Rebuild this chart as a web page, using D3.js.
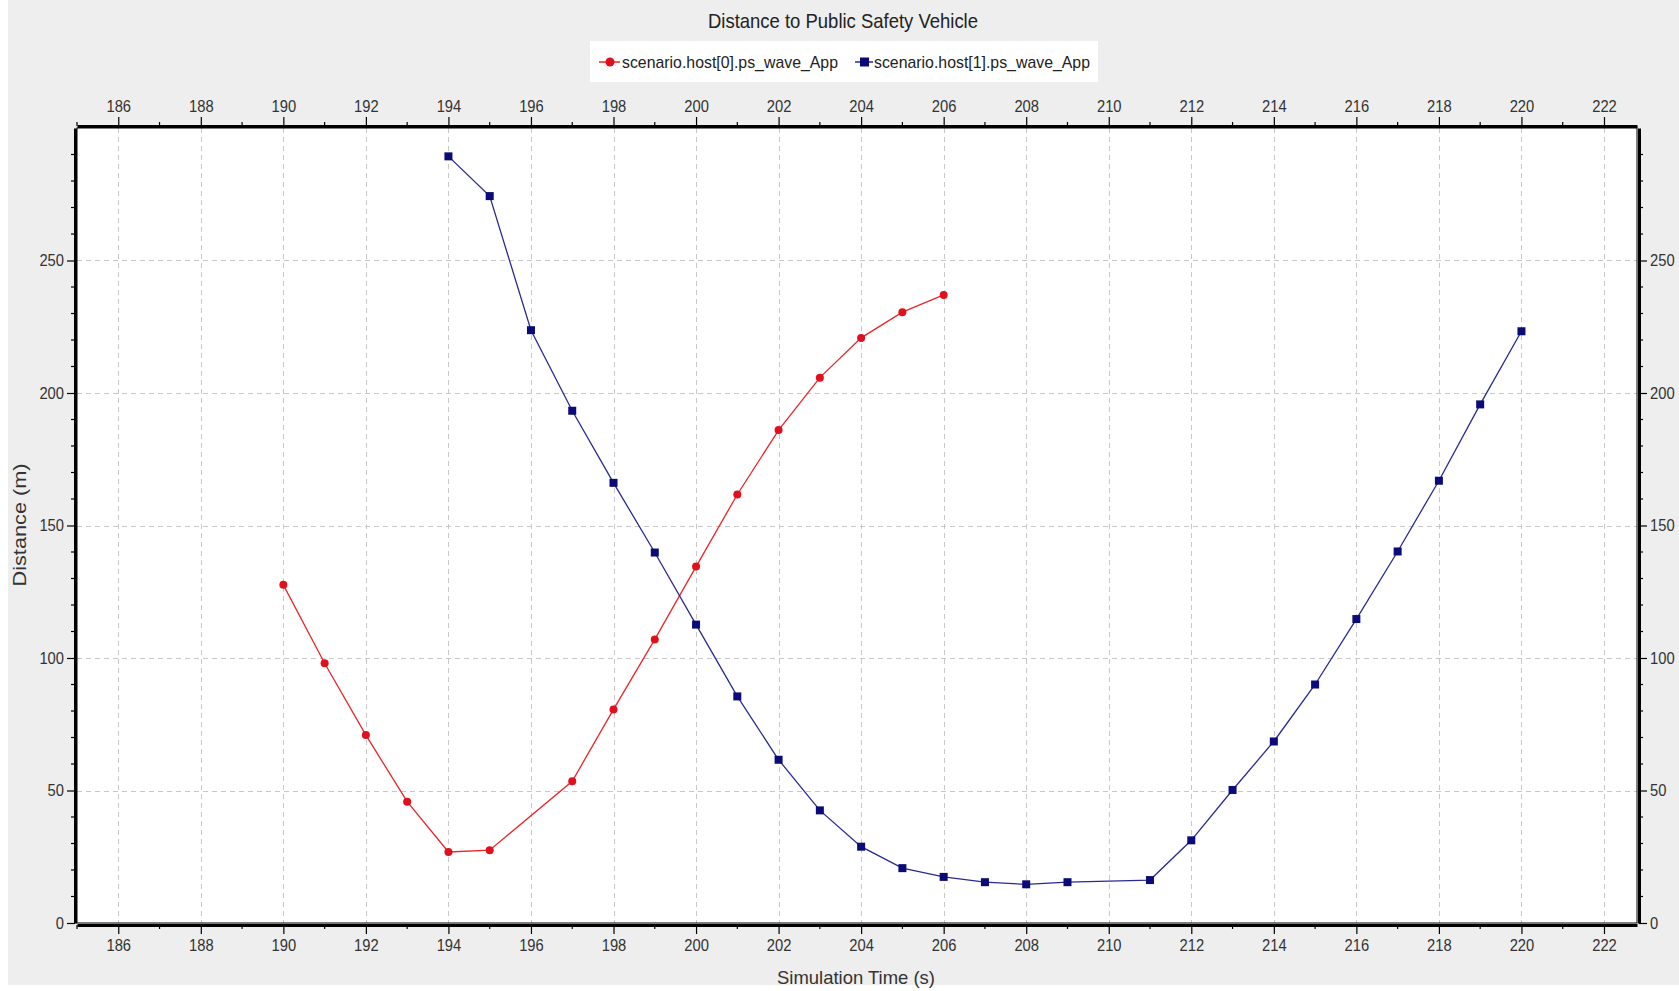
<!DOCTYPE html>
<html>
<head>
<meta charset="utf-8">
<script src="https://cdn.jsdelivr.net/npm/d3@7"></script>
<style>
  body { margin: 0; background: #fff; }
  text { font-family: "Liberation Sans Narrow", "Arial Narrow", "Liberation Sans", Arial, sans-serif; }
</style>
</head>
<body>
<div id="chart"></div>
<script>
// series data
const host0Time = [190, 191, 192, 193, 194, 195, 197, 198, 199, 200, 201, 202, 203, 204, 205, 206];
const host0Dist = [127.6, 98, 70.9, 45.8, 26.8, 27.5, 53.5, 80.6, 107, 134.5, 161.7, 186, 205.8, 220.8, 230.5, 237];

const host1Time = [194, 195, 196, 197, 198, 199, 200, 201, 202, 203, 204, 205, 206, 207, 208, 209, 211, 212, 213, 214, 215, 216, 217, 218, 219, 220];
const host1Dist = [289.3, 274.3, 223.7, 193.3, 166.1, 139.8, 112.6, 85.5, 61.6, 42.5, 28.8, 20.7, 17.4, 15.4, 14.6, 15.4, 16.2, 31.2, 50.2, 68.5, 90, 114.7, 140.2, 166.9, 195.7, 223.3];

const xMajorTicks = d3.range(186, 223, 2);
const xMinorTicks = d3.range(185, 223, 1);
const yMajorTicks = [0, 50, 100, 150, 200, 250];
const yMinorTicks = d3.range(0, 301, 10);

const seriesNames = ["scenario.host[0].ps_wave_App", "scenario.host[1].ps_wave_App"];
const titleText = "Distance to Public Safety Vehicle";
const xTitle = "Simulation Time (s)";
const yTitle = "Distance (m)";

const W = 1679, H = 991;
const plot = { left: 77, right: 1637, top: 128, bottom: 923 };

const svg = d3.select("#chart").append("svg")
  .attr("width", W).attr("height", H);

// panel background
svg.append("rect").attr("x", 8).attr("y", 0).attr("width", W - 8).attr("height", 985)
  .attr("fill", "#eeeeee");

const x = d3.scaleLinear().domain([185, 222.8]).range([plot.left, plot.right]);
const y = d3.scaleLinear().domain([0, 300]).range([plot.bottom, plot.top]);

// plot area
svg.append("rect")
  .attr("x", plot.left).attr("y", plot.top)
  .attr("width", plot.right - plot.left).attr("height", plot.bottom - plot.top)
  .attr("fill", "#fff");

// grid
const grid = svg.append("g").attr("stroke", "#c8c8c8").attr("stroke-dasharray", "5,4").attr("stroke-width", 1);
grid.selectAll("line.vx").data(xMajorTicks).enter().append("line")
  .attr("x1", d => Math.round(x(d)) + 0.5).attr("x2", d => Math.round(x(d)) + 0.5)
  .attr("y1", plot.top).attr("y2", plot.bottom);
grid.selectAll("line.hy").data(yMajorTicks.filter(d => d > 0)).enter().append("line")
  .attr("y1", d => Math.round(y(d)) + 0.5).attr("y2", d => Math.round(y(d)) + 0.5)
  .attr("x1", plot.left).attr("x2", plot.right);

// axes
function styleAxis(g) {
  g.selectAll(".domain").attr("stroke", "#000").attr("stroke-width", 3);
  g.selectAll(".tick line").attr("stroke", "#000").attr("stroke-width", 1.2);
  g.selectAll(".tick text").attr("fill", "#333").style("font-size", "17px")
    .attr("textLength", d => String(d).length * 8.2)
    .attr("lengthAdjust", "spacingAndGlyphs");
}

const off = 2;
const gBottom = svg.append("g").attr("transform", `translate(0,${plot.bottom + off})`)
  .call(d3.axisBottom(x).tickValues(xMajorTicks).tickSize(9).tickSizeOuter(0).tickPadding(5).tickFormat(d3.format("d")));
styleAxis(gBottom);
const gTop = svg.append("g").attr("transform", `translate(0,${plot.top - off})`)
  .call(d3.axisTop(x).tickValues(xMajorTicks).tickSize(9).tickSizeOuter(0).tickPadding(5).tickFormat(d3.format("d")));
styleAxis(gTop);
const gLeft = svg.append("g").attr("transform", `translate(${plot.left - off},0)`)
  .call(d3.axisLeft(y).tickValues(yMajorTicks).tickSize(8).tickSizeOuter(0).tickPadding(3).tickFormat(d3.format("d")));
styleAxis(gLeft);
const gRight = svg.append("g").attr("transform", `translate(${plot.right + off},0)`)
  .call(d3.axisRight(y).tickValues(yMajorTicks).tickSize(8).tickSizeOuter(0).tickPadding(3).tickFormat(d3.format("d")));
styleAxis(gRight);

// minor ticks
const minor = svg.append("g").attr("stroke", "#000").attr("stroke-width", 1.2);
xMinorTicks.filter(d => d % 2 !== 0).forEach(d => {
  minor.append("line").attr("x1", x(d)).attr("x2", x(d)).attr("y1", plot.bottom + off).attr("y2", plot.bottom + off + 4);
  minor.append("line").attr("x1", x(d)).attr("x2", x(d)).attr("y1", plot.top - off).attr("y2", plot.top - off - 4);
});
yMinorTicks.filter(d => d % 50 !== 0).forEach(d => {
  minor.append("line").attr("y1", y(d)).attr("y2", y(d)).attr("x1", plot.left - off).attr("x2", plot.left - off - 4);
  minor.append("line").attr("y1", y(d)).attr("y2", y(d)).attr("x1", plot.right + off).attr("x2", plot.right + off + 4);
});

// plot border
svg.append("rect")
  .attr("x", plot.left).attr("y", plot.top)
  .attr("width", plot.right - plot.left).attr("height", plot.bottom - plot.top)
  .attr("fill", "none").attr("stroke", "#000").attr("stroke-width", 1);

// lines
const line = d3.line().x(d => x(d[0])).y(d => y(d[1]));
const host0 = host0Time.map((t, i) => [t, host0Dist[i]]);
const host1 = host1Time.map((t, i) => [t, host1Dist[i]]);

svg.append("path").datum(host0).attr("d", line)
  .attr("fill", "none").attr("stroke", "#e8262b").attr("stroke-width", 1.3);
svg.selectAll("circle.h0").data(host0).enter().append("circle")
  .attr("cx", d => x(d[0])).attr("cy", d => y(d[1])).attr("r", 4)
  .attr("fill", "#e0101e");

svg.append("path").datum(host1).attr("d", line)
  .attr("fill", "none").attr("stroke", "#2a2a96").attr("stroke-width", 1.3);
svg.selectAll("rect.h1").data(host1).enter().append("rect")
  .attr("x", d => x(d[0]) - 4).attr("y", d => y(d[1]) - 4)
  .attr("width", 8).attr("height", 8).attr("fill", "#0a0a78");

// title
svg.append("text").attr("x", 843).attr("y", 28).attr("text-anchor", "middle")
  .attr("textLength", 270).attr("lengthAdjust", "spacingAndGlyphs")
  .style("font-size", "21px").attr("fill", "#222").text(titleText);

// legend
const lg = svg.append("g");
lg.append("rect").attr("x", 590).attr("y", 41).attr("width", 508).attr("height", 41).attr("fill", "#fff");
lg.append("line").attr("x1", 599).attr("x2", 620).attr("y1", 62).attr("y2", 62).attr("stroke", "#e8262b").attr("stroke-width", 1.5);
lg.append("circle").attr("cx", 610).attr("cy", 62).attr("r", 4.5).attr("fill", "#e0101e");
lg.append("text").attr("x", 622).attr("y", 68).style("font-size", "17px").attr("fill", "#222")
  .attr("textLength", 216).attr("lengthAdjust", "spacingAndGlyphs").text(seriesNames[0]);
lg.append("line").attr("x1", 855).attr("x2", 873).attr("y1", 62).attr("y2", 62).attr("stroke", "#2a2a96").attr("stroke-width", 1.5);
lg.append("rect").attr("x", 860).attr("y", 57.5).attr("width", 9).attr("height", 9).attr("fill", "#0a0a78");
lg.append("text").attr("x", 874).attr("y", 68).style("font-size", "17px").attr("fill", "#222")
  .attr("textLength", 216).attr("lengthAdjust", "spacingAndGlyphs").text(seriesNames[1]);

// axis titles
svg.append("text").attr("x", 856).attr("y", 984).attr("text-anchor", "middle")
  .attr("textLength", 158).attr("lengthAdjust", "spacingAndGlyphs")
  .style("font-size", "19px").attr("fill", "#333").text(xTitle);
svg.append("text").attr("transform", "translate(26,525) rotate(-90)").attr("text-anchor", "middle")
  .attr("textLength", 123).attr("lengthAdjust", "spacingAndGlyphs")
  .style("font-size", "19px").attr("fill", "#333").text(yTitle);
</script>
</body>
</html>
